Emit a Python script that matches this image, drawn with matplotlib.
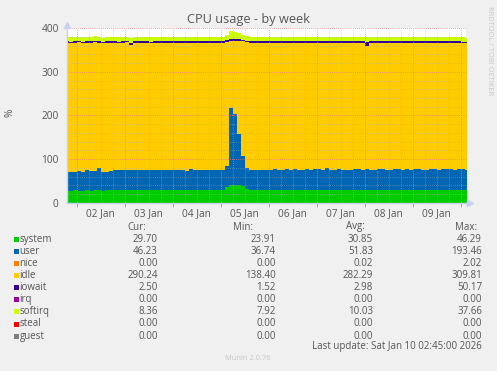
import numpy as np
import matplotlib
matplotlib.use("Agg")
import matplotlib.pyplot as plt
from matplotlib.patches import Rectangle

plt.rcParams['font.family'] = ['Open Sans', 'DejaVu Sans']

# --- data: 2-hour samples, hours since Jan 1 00:00 ---
hours = np.arange(18, 222, 2)

system = [27, 27, 28, 27, 27, 28, 27, 28, 28, 27, 28, 28,
          28, 29, 28, 28, 29, 28, 28, 29, 29, 28, 28, 29,
          29, 28, 29, 28, 28, 29, 28, 29, 28, 28, 29, 28,
          28, 29, 28, 30, 36, 40, 41, 40, 38, 31, 29, 28,
          29, 28, 29, 28, 28, 29, 28, 29, 28, 28, 29, 28,
          29, 28, 28, 29, 28, 29, 28, 28, 29, 28, 29, 28,
          28, 29, 28, 29, 28, 28, 29, 28, 29, 28, 28, 29,
          28, 29, 28, 29, 28, 28, 29, 28, 29, 28, 29, 28,
          29, 28, 29, 28, 30, 30]
user = [43, 44, 43, 45, 44, 46, 46, 44, 52, 44, 43, 45,
        46, 45, 47, 46, 45, 46, 48, 46, 45, 47, 46, 45,
        46, 47, 45, 46, 47, 46, 45, 48, 46, 47, 46, 47,
        47, 46, 47, 46, 48, 178, 162, 118, 68, 48, 47, 46,
        47, 48, 46, 47, 49, 47, 46, 48, 47, 49, 47, 48,
        48, 47, 49, 48, 47, 50, 48, 47, 49, 48, 47, 48,
        49, 48, 47, 49, 48, 47, 48, 49, 47, 48, 50, 48,
        48, 49, 47, 48, 50, 48, 47, 49, 48, 47, 48, 49,
        48, 47, 48, 49, 46, 46]
idle = [297, 295, 296, 296, 295, 293, 294, 296, 287, 295, 296, 294,
        293, 292, 292, 294, 287, 293, 291, 292, 293, 291, 293, 293,
        292, 292, 293, 293, 292, 292, 294, 290, 293, 292, 292, 292,
        292, 292, 292, 291, 285, 154, 169, 214, 264, 289, 291, 293,
        291, 291, 292, 292, 290, 291, 293, 290, 292, 290, 291, 291,
        290, 292, 290, 290, 292, 288, 291, 292, 289, 291, 291, 291,
        290, 290, 292, 282, 291, 292, 290, 290, 291, 291, 289, 290,
        291, 289, 292, 290, 289, 291, 291, 290, 290, 292, 290, 290,
        290, 292, 290, 290, 290, 290]
iowait = [3.0, 2.8, 3.1, 2.9, 3.0, 3.2, 2.9, 3.0, 3.1, 2.8, 3.0, 2.9,
          3.0, 3.1, 2.9, 3.0, 6.0, 3.0, 2.9, 3.1, 3.0, 2.8, 3.0, 3.1,
          2.9, 3.0, 3.1, 2.9, 3.0, 3.0, 2.8, 3.1, 3.0, 2.9, 3.0, 3.1,
          3.0, 2.9, 3.1, 3.0, 3.2, 3.5, 3.3, 3.1, 3.0, 2.9, 3.0, 3.1,
          2.9, 3.0, 3.1, 3.0, 2.9, 3.0, 3.1, 2.9, 3.0, 3.0, 2.8, 3.1,
          3.0, 2.9, 3.0, 3.1, 3.0, 2.9, 3.0, 3.1, 2.9, 3.0, 3.0, 2.9,
          3.0, 3.1, 2.9, 8.0, 3.0, 2.9, 3.1, 3.0, 2.9, 3.0, 3.1, 2.9,
          3.0, 2.9, 3.1, 3.0, 2.9, 3.0, 3.1, 2.9, 3.0, 3.0, 2.9, 3.0,
          3.1, 2.9, 3.0, 2.5, 2.5, 2.5]
softirq = [10, 11, 10, 10, 11, 10, 10, 11, 10, 10, 11, 10,
           10, 11, 10, 10, 11, 10, 11, 10, 10, 11, 10, 10,
           11, 10, 10, 11, 10, 10, 11, 10, 10, 11, 10, 11,
           10, 10, 11, 10, 13, 19, 17, 14, 12, 11, 10, 10,
           11, 10, 10, 11, 10, 11, 10, 10, 11, 10, 11, 10,
           10, 11, 10, 10, 11, 10, 11, 10, 10, 11, 10, 10,
           11, 10, 10, 11, 10, 10, 11, 10, 11, 10, 10, 11,
           10, 11, 10, 10, 11, 10, 10, 11, 10, 10, 11, 10,
           10, 11, 10, 10, 8.36, 8.36]

names = ["system", "user", "nice", "idle", "iowait", "irq", "softirq", "steal", "guest"]
colors = ["#00CC00", "#0066B3", "#FF8000", "#FFCC00", "#330099", "#990099", "#CCFF00", "#FF0000", "#808080"]
cur = [29.70, 46.23, 0.00, 290.24, 2.50, 0.00, 8.36, 0.00, 0.00]
vmin = [23.91, 36.74, 0.00, 138.40, 1.52, 0.00, 7.92, 0.00, 0.00]
avg = [30.85, 51.83, 0.02, 282.29, 2.98, 0.00, 10.03, 0.00, 0.00]
vmax = [46.29, 193.46, 2.02, 309.81, 50.17, 0.00, 37.66, 0.00, 0.00]

day_labels = ["02 Jan", "03 Jan", "04 Jan", "05 Jan", "06 Jan", "07 Jan", "08 Jan", "09 Jan"]

# --- figure ---
W, H = 497, 371
fig = plt.figure(figsize=(W / 100, H / 100), dpi=100, facecolor="#F0F0F0")
ax = fig.add_axes([67 / W, 168.3 / H, 399 / W, 174.4 / H])
ax.set_facecolor("white")

txt = "#555555"

def fx(x):
    return x / W

def fy(y):
    return 1 - y / H

# stacked areas (rrdtool style steps)
stack = [("system", system), ("user", user), ("idle", idle), ("iowait", iowait), ("softirq", softirq)]
base = np.zeros(len(hours))
for name, vals in stack:
    top = base + np.array(vals, dtype=float)
    ax.fill_between(hours, base, top, step="post", color=colors[names.index(name)],
                    linewidth=0, zorder=2)
    base = top

ax.set_xlim(19.25, 218.75)
ax.set_ylim(0, 400)

# grid (drawn over the data, like rrdtool)
for h in range(0, 240, 6):
    if 19.25 < h < 218.75:
        if h % 24 == 0:
            ax.axvline(h, color="#F08080", lw=0.6, ls=(0, (1, 1.5)), zorder=3)
        else:
            ax.axvline(h, color="#B0B0B0", lw=0.6, ls=(0, (1, 1.5)), zorder=3, alpha=0.6)
for v in range(20, 401, 20):
    if v % 100 == 0:
        ax.axhline(v, color="#F08080", lw=0.6, ls=(0, (1, 1.5)), zorder=3)
    else:
        ax.axhline(v, color="#B0B0B0", lw=0.6, ls=(0, (1, 1.5)), zorder=3, alpha=0.6)

for s in ["top", "right"]:
    ax.spines[s].set_visible(False)
for s in ["left", "bottom"]:
    ax.spines[s].set_color("#C8D0F0")
    ax.spines[s].set_linewidth(1.0)
    ax.spines[s].set_zorder(4)

# axis arrows
ax.plot([19.25], [408], marker="^", ms=5, color="#C8D0F0", clip_on=False, zorder=5)
ax.plot([220.5], [0], marker=">", ms=5, color="#C8D0F0", clip_on=False, zorder=5)

ax.set_xticks([24 * d + 12 for d in range(1, 9)])
ax.set_xticklabels(day_labels)
ax.set_xticks([24 * d for d in range(1, 10)], minor=True)
ax.tick_params(axis="x", which="major", length=0, pad=4, labelsize=7.3, labelcolor=txt)
ax.tick_params(axis="x", which="minor", length=3, color="#F08080", width=0.7)
ax.set_yticks([0, 100, 200, 300, 400])
ax.tick_params(axis="y", length=0, pad=6, labelsize=7.3, labelcolor=txt)

# title and side texts
fig.text(fx(248), fy(20), "CPU usage - by week", ha="center", va="center", fontsize=9.2, color=txt)
fig.text(fx(10), fy(113), "%", ha="center", va="center", rotation=90, fontsize=7.3, color=txt)
fig.text(fx(489), fy(51), "RRDTOOL / TOBI OETIKER", ha="center", va="center", rotation=270,
         fontsize=5.3, color="#C8C8C8")

# legend table
fs = 7.0
headers = [("Cur:", 146), ("Min:", 253), ("Avg:", 365), ("Max:", 477)]
for label, xr in headers:
    fig.text(fx(xr), fy(227), label, ha="right", va="center", fontsize=fs, color=txt)

col_right = [158, 276, 373, 482]
for k, name in enumerate(names):
    y = 239.3 + 12.1 * k
    fig.patches.append(Rectangle((fx(14), fy(y + 2.5)), 5 / W, 5 / H, transform=fig.transFigure,
                                 facecolor=colors[k], edgecolor="none"))
    fig.text(fx(19.5), fy(y), name, ha="left", va="center", fontsize=fs, color=txt)
    for xr, vals in zip(col_right, [cur, vmin, avg, vmax]):
        fig.text(fx(xr), fy(y), "%.2f" % vals[k], ha="right", va="center", fontsize=fs, color=txt)

fig.text(fx(482), fy(347), "Last update: Sat Jan 10 02:45:00 2026", ha="right", va="center",
         fontsize=fs, color=txt)
fig.text(fx(248), fy(358), "Munin 2.0.76", ha="center", va="center", fontsize=5.4, color="#C8C8C8")

fig.savefig("out.png", dpi=100, facecolor=fig.get_facecolor())
